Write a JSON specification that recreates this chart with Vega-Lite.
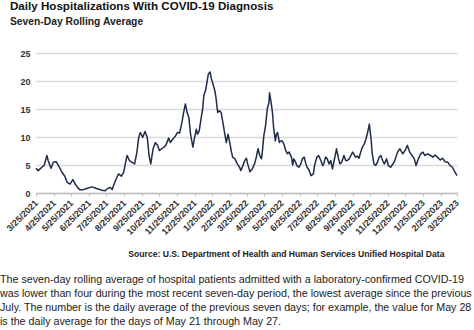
{
  "$schema": "https://vega.github.io/schema/vega-lite/v6.json",
  "background": "white",
  "padding": {"left": 0, "top": 1, "right": 0, "bottom": 0},
  "config": {"view": {"stroke": null}},
  "title": {
    "text": [
      "The seven-day rolling average of hospital patients admitted with a laboratory-confirmed COVID-19",
      "was lower than four during the most recent seven-day period, the lowest average since the previous",
      "July. The number is the daily average of the previous seven days; for example, the value for May 28",
      "is the daily average for the days of May 21 through May 27."
    ],
    "orient": "bottom",
    "anchor": "start",
    "align": "left",
    "frame": "group",
    "dx": -36,
    "offset": 17,
    "font": "Liberation Sans",
    "fontSize": 10.7,
    "fontWeight": "normal",
    "lineHeight": 14,
    "color": "#222222"
  },
  "vconcat": [
    {
      "width": 421,
      "height": 140,
      "title": {
        "text": "Daily Hospitalizations With COVID-19 Diagnosis",
        "subtitle": "Seven-Day Rolling Average",
        "anchor": "start",
        "align": "left",
        "frame": "group",
        "dx": -26,
        "offset": 22,
        "font": "Liberation Sans",
        "fontSize": 11.6,
        "fontWeight": "bold",
        "color": "#111111",
        "subtitleFont": "Liberation Sans",
        "subtitleFontSize": 10.3,
        "subtitleFontWeight": "bold",
        "subtitleColor": "#222222",
        "subtitlePadding": 4
      },
      "data": {
        "values": [
          {"date": "2021-03-25", "v": 4.4}, {"date": "2021-03-29", "v": 4.0}, {"date": "2021-04-04", "v": 4.6}, {"date": "2021-04-08", "v": 4.9},
          {"date": "2021-04-13", "v": 6.7}, {"date": "2021-04-15", "v": 5.8}, {"date": "2021-04-20", "v": 4.4}, {"date": "2021-04-24", "v": 5.5},
          {"date": "2021-04-29", "v": 5.6}, {"date": "2021-05-03", "v": 4.9}, {"date": "2021-05-09", "v": 3.7}, {"date": "2021-05-14", "v": 3.0},
          {"date": "2021-05-18", "v": 1.9}, {"date": "2021-05-23", "v": 1.6}, {"date": "2021-05-28", "v": 2.4}, {"date": "2021-06-01", "v": 1.6},
          {"date": "2021-06-05", "v": 1.0}, {"date": "2021-06-09", "v": 0.6}, {"date": "2021-06-15", "v": 0.6}, {"date": "2021-06-21", "v": 0.8},
          {"date": "2021-06-30", "v": 1.1}, {"date": "2021-07-08", "v": 0.8}, {"date": "2021-07-17", "v": 0.5}, {"date": "2021-07-23", "v": 0.4},
          {"date": "2021-07-27", "v": 0.8}, {"date": "2021-08-01", "v": 1.0}, {"date": "2021-08-04", "v": 0.6}, {"date": "2021-08-06", "v": 1.2},
          {"date": "2021-08-11", "v": 2.5}, {"date": "2021-08-15", "v": 3.4}, {"date": "2021-08-20", "v": 3.0}, {"date": "2021-08-24", "v": 3.7},
          {"date": "2021-08-28", "v": 5.8}, {"date": "2021-08-30", "v": 6.7}, {"date": "2021-09-03", "v": 5.8}, {"date": "2021-09-07", "v": 5.5},
          {"date": "2021-09-12", "v": 5.2}, {"date": "2021-09-16", "v": 7.3}, {"date": "2021-09-19", "v": 9.9}, {"date": "2021-09-22", "v": 10.8},
          {"date": "2021-09-26", "v": 9.9}, {"date": "2021-09-30", "v": 11.0}, {"date": "2021-10-04", "v": 9.9}, {"date": "2021-10-07", "v": 6.7},
          {"date": "2021-10-10", "v": 5.2}, {"date": "2021-10-14", "v": 7.9}, {"date": "2021-10-18", "v": 9.0}, {"date": "2021-10-22", "v": 8.5},
          {"date": "2021-10-25", "v": 7.6}, {"date": "2021-10-29", "v": 7.9}, {"date": "2021-11-02", "v": 8.2}, {"date": "2021-11-05", "v": 8.5},
          {"date": "2021-11-10", "v": 9.8}, {"date": "2021-11-13", "v": 9.0}, {"date": "2021-11-17", "v": 9.6}, {"date": "2021-11-22", "v": 10.2},
          {"date": "2021-11-25", "v": 10.8}, {"date": "2021-11-29", "v": 10.7}, {"date": "2021-12-03", "v": 12.6}, {"date": "2021-12-06", "v": 14.4},
          {"date": "2021-12-09", "v": 15.9}, {"date": "2021-12-12", "v": 14.4}, {"date": "2021-12-15", "v": 13.5}, {"date": "2021-12-18", "v": 10.5},
          {"date": "2021-12-22", "v": 8.2}, {"date": "2021-12-25", "v": 9.9}, {"date": "2021-12-28", "v": 11.4}, {"date": "2021-12-30", "v": 10.5},
          {"date": "2022-01-02", "v": 11.1}, {"date": "2022-01-06", "v": 13.8}, {"date": "2022-01-08", "v": 15.0}, {"date": "2022-01-10", "v": 17.4},
          {"date": "2022-01-13", "v": 18.3}, {"date": "2022-01-16", "v": 20.1}, {"date": "2022-01-18", "v": 21.3}, {"date": "2022-01-21", "v": 21.6},
          {"date": "2022-01-23", "v": 20.4}, {"date": "2022-01-25", "v": 19.8}, {"date": "2022-01-29", "v": 18.3}, {"date": "2022-01-31", "v": 17.1},
          {"date": "2022-02-03", "v": 14.4}, {"date": "2022-02-06", "v": 14.7}, {"date": "2022-02-09", "v": 14.4}, {"date": "2022-02-12", "v": 12.6},
          {"date": "2022-02-15", "v": 10.8}, {"date": "2022-02-18", "v": 9.0}, {"date": "2022-02-21", "v": 10.5}, {"date": "2022-02-24", "v": 9.0},
          {"date": "2022-02-27", "v": 7.3}, {"date": "2022-03-01", "v": 6.4}, {"date": "2022-03-05", "v": 6.1}, {"date": "2022-03-09", "v": 5.2},
          {"date": "2022-03-13", "v": 4.6}, {"date": "2022-03-15", "v": 4.0}, {"date": "2022-03-18", "v": 4.7}, {"date": "2022-03-22", "v": 5.8},
          {"date": "2022-03-25", "v": 6.2}, {"date": "2022-03-27", "v": 5.2}, {"date": "2022-03-31", "v": 3.8}, {"date": "2022-04-04", "v": 4.3},
          {"date": "2022-04-08", "v": 5.2}, {"date": "2022-04-11", "v": 6.4}, {"date": "2022-04-14", "v": 7.9}, {"date": "2022-04-17", "v": 6.7},
          {"date": "2022-04-20", "v": 6.1}, {"date": "2022-04-22", "v": 7.9}, {"date": "2022-04-24", "v": 10.2}, {"date": "2022-04-27", "v": 12.0},
          {"date": "2022-04-30", "v": 15.0}, {"date": "2022-05-03", "v": 16.2}, {"date": "2022-05-04", "v": 17.9}, {"date": "2022-05-07", "v": 15.9},
          {"date": "2022-05-09", "v": 14.4}, {"date": "2022-05-11", "v": 11.7}, {"date": "2022-05-14", "v": 9.3}, {"date": "2022-05-16", "v": 10.5},
          {"date": "2022-05-18", "v": 10.8}, {"date": "2022-05-21", "v": 9.0}, {"date": "2022-05-23", "v": 9.3}, {"date": "2022-05-26", "v": 9.3},
          {"date": "2022-05-29", "v": 8.7}, {"date": "2022-06-01", "v": 7.6}, {"date": "2022-06-04", "v": 7.0}, {"date": "2022-06-07", "v": 7.3},
          {"date": "2022-06-11", "v": 6.4}, {"date": "2022-06-13", "v": 5.0}, {"date": "2022-06-15", "v": 6.1}, {"date": "2022-06-18", "v": 5.5},
          {"date": "2022-06-21", "v": 4.8}, {"date": "2022-06-24", "v": 4.6}, {"date": "2022-06-27", "v": 5.2}, {"date": "2022-06-30", "v": 6.1},
          {"date": "2022-07-03", "v": 6.4}, {"date": "2022-07-06", "v": 5.2}, {"date": "2022-07-08", "v": 4.6}, {"date": "2022-07-11", "v": 4.2},
          {"date": "2022-07-15", "v": 3.1}, {"date": "2022-07-19", "v": 3.4}, {"date": "2022-07-21", "v": 4.9}, {"date": "2022-07-25", "v": 6.4},
          {"date": "2022-07-28", "v": 6.7}, {"date": "2022-08-01", "v": 5.8}, {"date": "2022-08-04", "v": 4.9}, {"date": "2022-08-06", "v": 5.2},
          {"date": "2022-08-09", "v": 6.4}, {"date": "2022-08-12", "v": 6.1}, {"date": "2022-08-15", "v": 5.2}, {"date": "2022-08-18", "v": 5.8},
          {"date": "2022-08-21", "v": 4.3}, {"date": "2022-08-24", "v": 5.8}, {"date": "2022-08-27", "v": 7.3}, {"date": "2022-08-28", "v": 7.9},
          {"date": "2022-08-31", "v": 6.4}, {"date": "2022-09-03", "v": 5.2}, {"date": "2022-09-06", "v": 5.5}, {"date": "2022-09-10", "v": 6.7},
          {"date": "2022-09-13", "v": 5.8}, {"date": "2022-09-16", "v": 5.8}, {"date": "2022-09-19", "v": 6.1}, {"date": "2022-09-22", "v": 6.7},
          {"date": "2022-09-25", "v": 7.3}, {"date": "2022-09-27", "v": 7.0}, {"date": "2022-09-30", "v": 6.4}, {"date": "2022-10-03", "v": 6.6},
          {"date": "2022-10-06", "v": 6.2}, {"date": "2022-10-09", "v": 7.3}, {"date": "2022-10-12", "v": 8.2}, {"date": "2022-10-15", "v": 8.7},
          {"date": "2022-10-18", "v": 9.6}, {"date": "2022-10-21", "v": 10.8}, {"date": "2022-10-24", "v": 12.3}, {"date": "2022-10-25", "v": 11.4},
          {"date": "2022-10-27", "v": 9.6}, {"date": "2022-10-29", "v": 7.0}, {"date": "2022-11-01", "v": 5.2}, {"date": "2022-11-04", "v": 4.9},
          {"date": "2022-11-07", "v": 5.5}, {"date": "2022-11-10", "v": 6.4}, {"date": "2022-11-13", "v": 6.7}, {"date": "2022-11-16", "v": 5.8},
          {"date": "2022-11-19", "v": 5.2}, {"date": "2022-11-23", "v": 6.1}, {"date": "2022-11-26", "v": 4.9}, {"date": "2022-11-30", "v": 4.6},
          {"date": "2022-12-06", "v": 5.5}, {"date": "2022-12-12", "v": 7.3}, {"date": "2022-12-16", "v": 7.9}, {"date": "2022-12-21", "v": 7.0},
          {"date": "2022-12-25", "v": 7.6}, {"date": "2022-12-29", "v": 8.5}, {"date": "2023-01-02", "v": 7.3}, {"date": "2023-01-06", "v": 6.7},
          {"date": "2023-01-10", "v": 6.1}, {"date": "2023-01-13", "v": 4.9}, {"date": "2023-01-17", "v": 6.1}, {"date": "2023-01-21", "v": 7.0},
          {"date": "2023-01-25", "v": 7.3}, {"date": "2023-01-28", "v": 6.7}, {"date": "2023-02-02", "v": 7.0}, {"date": "2023-02-07", "v": 6.7},
          {"date": "2023-02-11", "v": 6.4}, {"date": "2023-02-15", "v": 6.8}, {"date": "2023-02-19", "v": 6.4}, {"date": "2023-02-24", "v": 5.9},
          {"date": "2023-02-28", "v": 6.2}, {"date": "2023-03-04", "v": 5.6}, {"date": "2023-03-09", "v": 5.5}, {"date": "2023-03-13", "v": 4.9},
          {"date": "2023-03-17", "v": 4.6}, {"date": "2023-03-21", "v": 3.8}, {"date": "2023-03-25", "v": 3.1}
        ]
      },
      "mark": {"type": "line", "color": "#1f2b4a", "strokeWidth": 1.5, "strokeJoin": "round"},
      "encoding": {
        "x": {
          "field": "date",
          "type": "temporal",
          "scale": {
            "type": "utc",
            "nice": false,
            "domain": [
              {"year": 2021, "month": 3, "date": 25, "utc": true},
              {"year": 2023, "month": 3, "date": 25, "utc": true}
            ]
          },
          "axis": {
            "title": "Source: U.S. Department of Health and Human Services Unified Hospital Data",
            "titleFont": "Liberation Sans",
            "titleFontSize": 8.6,
            "titleFontWeight": "bold",
            "titleColor": "#222222",
            "titleAnchor": "end",
            "titleAlign": "right",
            "titleX": 408,
            "titleY": 60,
            "titleBaseline": "middle",
            "values": [
              {"year": 2021, "month": 3, "date": 25, "utc": true},
              {"year": 2021, "month": 4, "date": 25, "utc": true},
              {"year": 2021, "month": 5, "date": 25, "utc": true},
              {"year": 2021, "month": 6, "date": 25, "utc": true},
              {"year": 2021, "month": 7, "date": 25, "utc": true},
              {"year": 2021, "month": 8, "date": 25, "utc": true},
              {"year": 2021, "month": 9, "date": 25, "utc": true},
              {"year": 2021, "month": 10, "date": 25, "utc": true},
              {"year": 2021, "month": 11, "date": 25, "utc": true},
              {"year": 2021, "month": 12, "date": 25, "utc": true},
              {"year": 2022, "month": 1, "date": 25, "utc": true},
              {"year": 2022, "month": 2, "date": 25, "utc": true},
              {"year": 2022, "month": 3, "date": 25, "utc": true},
              {"year": 2022, "month": 4, "date": 25, "utc": true},
              {"year": 2022, "month": 5, "date": 25, "utc": true},
              {"year": 2022, "month": 6, "date": 25, "utc": true},
              {"year": 2022, "month": 7, "date": 25, "utc": true},
              {"year": 2022, "month": 8, "date": 25, "utc": true},
              {"year": 2022, "month": 9, "date": 25, "utc": true},
              {"year": 2022, "month": 10, "date": 25, "utc": true},
              {"year": 2022, "month": 11, "date": 25, "utc": true},
              {"year": 2022, "month": 12, "date": 25, "utc": true},
              {"year": 2023, "month": 1, "date": 25, "utc": true},
              {"year": 2023, "month": 2, "date": 25, "utc": true},
              {"year": 2023, "month": 3, "date": 25, "utc": true}
            ],
            "labelExpr": "utcFormat(datum.value, '%-m/%-d/%Y')",
            "labelAngle": -45,
            "labelAlign": "right",
            "labelBaseline": "middle",
            "labelPadding": 5,
            "labelFont": "Liberation Sans",
            "labelFontSize": 9,
            "labelFontWeight": "bold",
            "labelColor": "#333333",
            "labelOverlap": false,
            "labelFlush": false,
            "labelBound": false,
            "domainColor": "#bfbfbf",
            "domainWidth": 1.5,
            "tickColor": "#bfbfbf",
            "tickSize": 3,
            "grid": false
          }
        },
        "y": {
          "field": "v",
          "type": "quantitative",
          "scale": {"domain": [0, 25], "nice": false, "zero": true},
          "axis": {
            "title": null,
            "values": [0, 5, 10, 15, 20, 25],
            "domain": false,
            "ticks": false,
            "grid": true,
            "gridColor": "#d9d9d9",
            "gridWidth": 1.5,
            "labelPadding": 6,
            "labelFont": "Liberation Sans",
            "labelFontSize": 9,
            "labelFontWeight": "bold",
            "labelColor": "#333333"
          }
        }
      }
    }
  ]
}
